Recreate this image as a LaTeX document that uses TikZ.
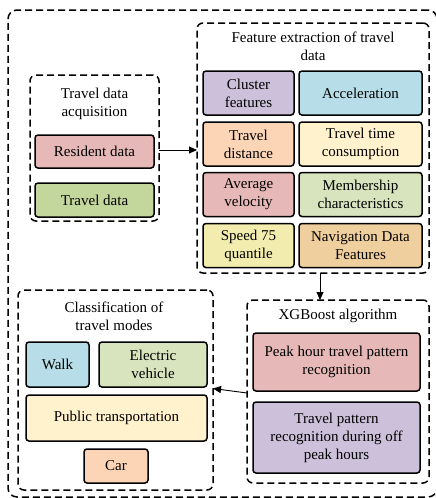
\documentclass[tikz,border=0pt]{standalone}
\usepackage{fontspec}
\setmainfont{Liberation Serif}
\usetikzlibrary{arrows.meta}
\definecolor{cLav}{HTML}{CCC0DA}
\definecolor{cBlue}{HTML}{B7DEE8}
\definecolor{cPeach}{HTML}{FBD5B5}
\definecolor{cCream}{HTML}{FFF2CC}
\definecolor{cPink}{HTML}{E6B9B8}
\definecolor{cGreenL}{HTML}{D7E4BD}
\definecolor{cGreen}{HTML}{C3D69B}
\definecolor{cYellow}{HTML}{F2EDAE}
\definecolor{cOrange}{HTML}{F0CF9F}
\tikzset{
  box/.style={draw=black, line width=1.5pt, rounded corners=3pt, inner sep=0pt, outer sep=0pt, align=center,
    font=\fontsize{15}{18}\selectfont},
  grp/.style={draw=black, line width=1.5pt, dash pattern=on 7pt off 4pt, rounded corners=6pt, inner sep=0pt, outer sep=0pt},
  ttl/.style={align=center, inner sep=0pt, font=\fontsize{15}{18}\selectfont},
  arr/.style={draw=black, line width=0.9pt, -{Triangle[length=8pt,width=7pt]}}
}
\begin{document}
\begin{tikzpicture}[x=1pt,y=-1pt]
\useasboundingbox (0,0) rectangle (436,498);
% outer frame
\node[grp, rounded corners=9pt, minimum width=429pt, minimum height=487pt] (outer) at (222.5,253.5) {};
% acquisition
\node[grp, minimum width=129pt, minimum height=146pt] (acq) at (94.5,148) {};
\node[ttl] (acqt) at (94.5,104) {Travel data\\acquisition};
\node[box, fill=cPink, minimum width=119pt, minimum height=33pt] (res) at (94.5,151.5) {Resident data};
\node[box, fill=cGreen, minimum width=119pt, minimum height=34pt] (trd) at (94.5,200) {Travel data};
% feature extraction
\node[grp, minimum width=232pt, minimum height=250pt] (feat) at (313,148) {};
\node[ttl] (featt) at (313,46) {Feature extraction of travel\\data};
\node[box, fill=cLav, minimum width=91pt, minimum height=44pt] (f1) at (248.5,93) {Cluster\\features};
\node[box, fill=cBlue, minimum width=123pt, minimum height=44pt] (f2) at (360.5,93) {Acceleration};
\node[box, fill=cPeach, minimum width=91pt, minimum height=44pt] (f3) at (248.5,144) {Travel\\distance};
\node[box, fill=cCream, minimum width=123pt, minimum height=44pt] (f4) at (360.5,144) {Travel time\\consumption};
\node[box, fill=cPink, minimum width=91pt, minimum height=44pt] (f5) at (248.5,194.5) {Average\\velocity};
\node[box, fill=cGreenL, minimum width=123pt, minimum height=44pt] (f6) at (360.5,194.5) {Membership\\characteristics};
\node[box, fill=cYellow, minimum width=91pt, minimum height=44pt] (f7) at (248.5,245.5) {Speed 75\\quantile};
\node[box, fill=cOrange, minimum width=123pt, minimum height=44pt] (f8) at (360.5,245.5) {Navigation Data\\Features};
% XGBoost
\node[grp, minimum width=182pt, minimum height=183pt] (xgb) at (338,391.5) {};
\node[ttl] (xgbt) at (338,316) {XGBoost algorithm};
\node[box, fill=cPink, minimum width=167pt, minimum height=58pt] (peak) at (336.5,362) {Peak hour travel pattern\\recognition};
\node[box, fill=cLav, minimum width=167pt, minimum height=71pt] (off) at (336.5,437.5) {Travel pattern\\recognition during off\\peak hours};
% classification
\node[grp, minimum width=195pt, minimum height=200pt] (cls) at (115.5,390) {};
\node[ttl] (clst) at (114,316) {Classification of\\travel modes};
\node[box, fill=cBlue, minimum width=63pt, minimum height=45pt] (walk) at (57.5,364.5) {Walk};
\node[box, fill=cGreenL, minimum width=108pt, minimum height=45pt] (ev) at (153,364.5) {Electric\\vehicle};
\node[box, fill=cCream, minimum width=181pt, minimum height=46pt] (pub) at (116.5,418) {Public transportation};
\node[box, fill=cPeach, minimum width=64pt, minimum height=34pt] (car) at (116,466) {Car};
% connectors
\draw[arr] ([yshift=-2pt]acq.east) -- ([yshift=-2pt]feat.west);
\draw[arr] ([xshift=7pt]feat.south) -- ([xshift=-18pt]xgb.north);
\draw[arr] ([yshift=-1.5pt]xgb.west) -- ([yshift=1.5pt]cls.east);
\end{tikzpicture}
\end{document}
